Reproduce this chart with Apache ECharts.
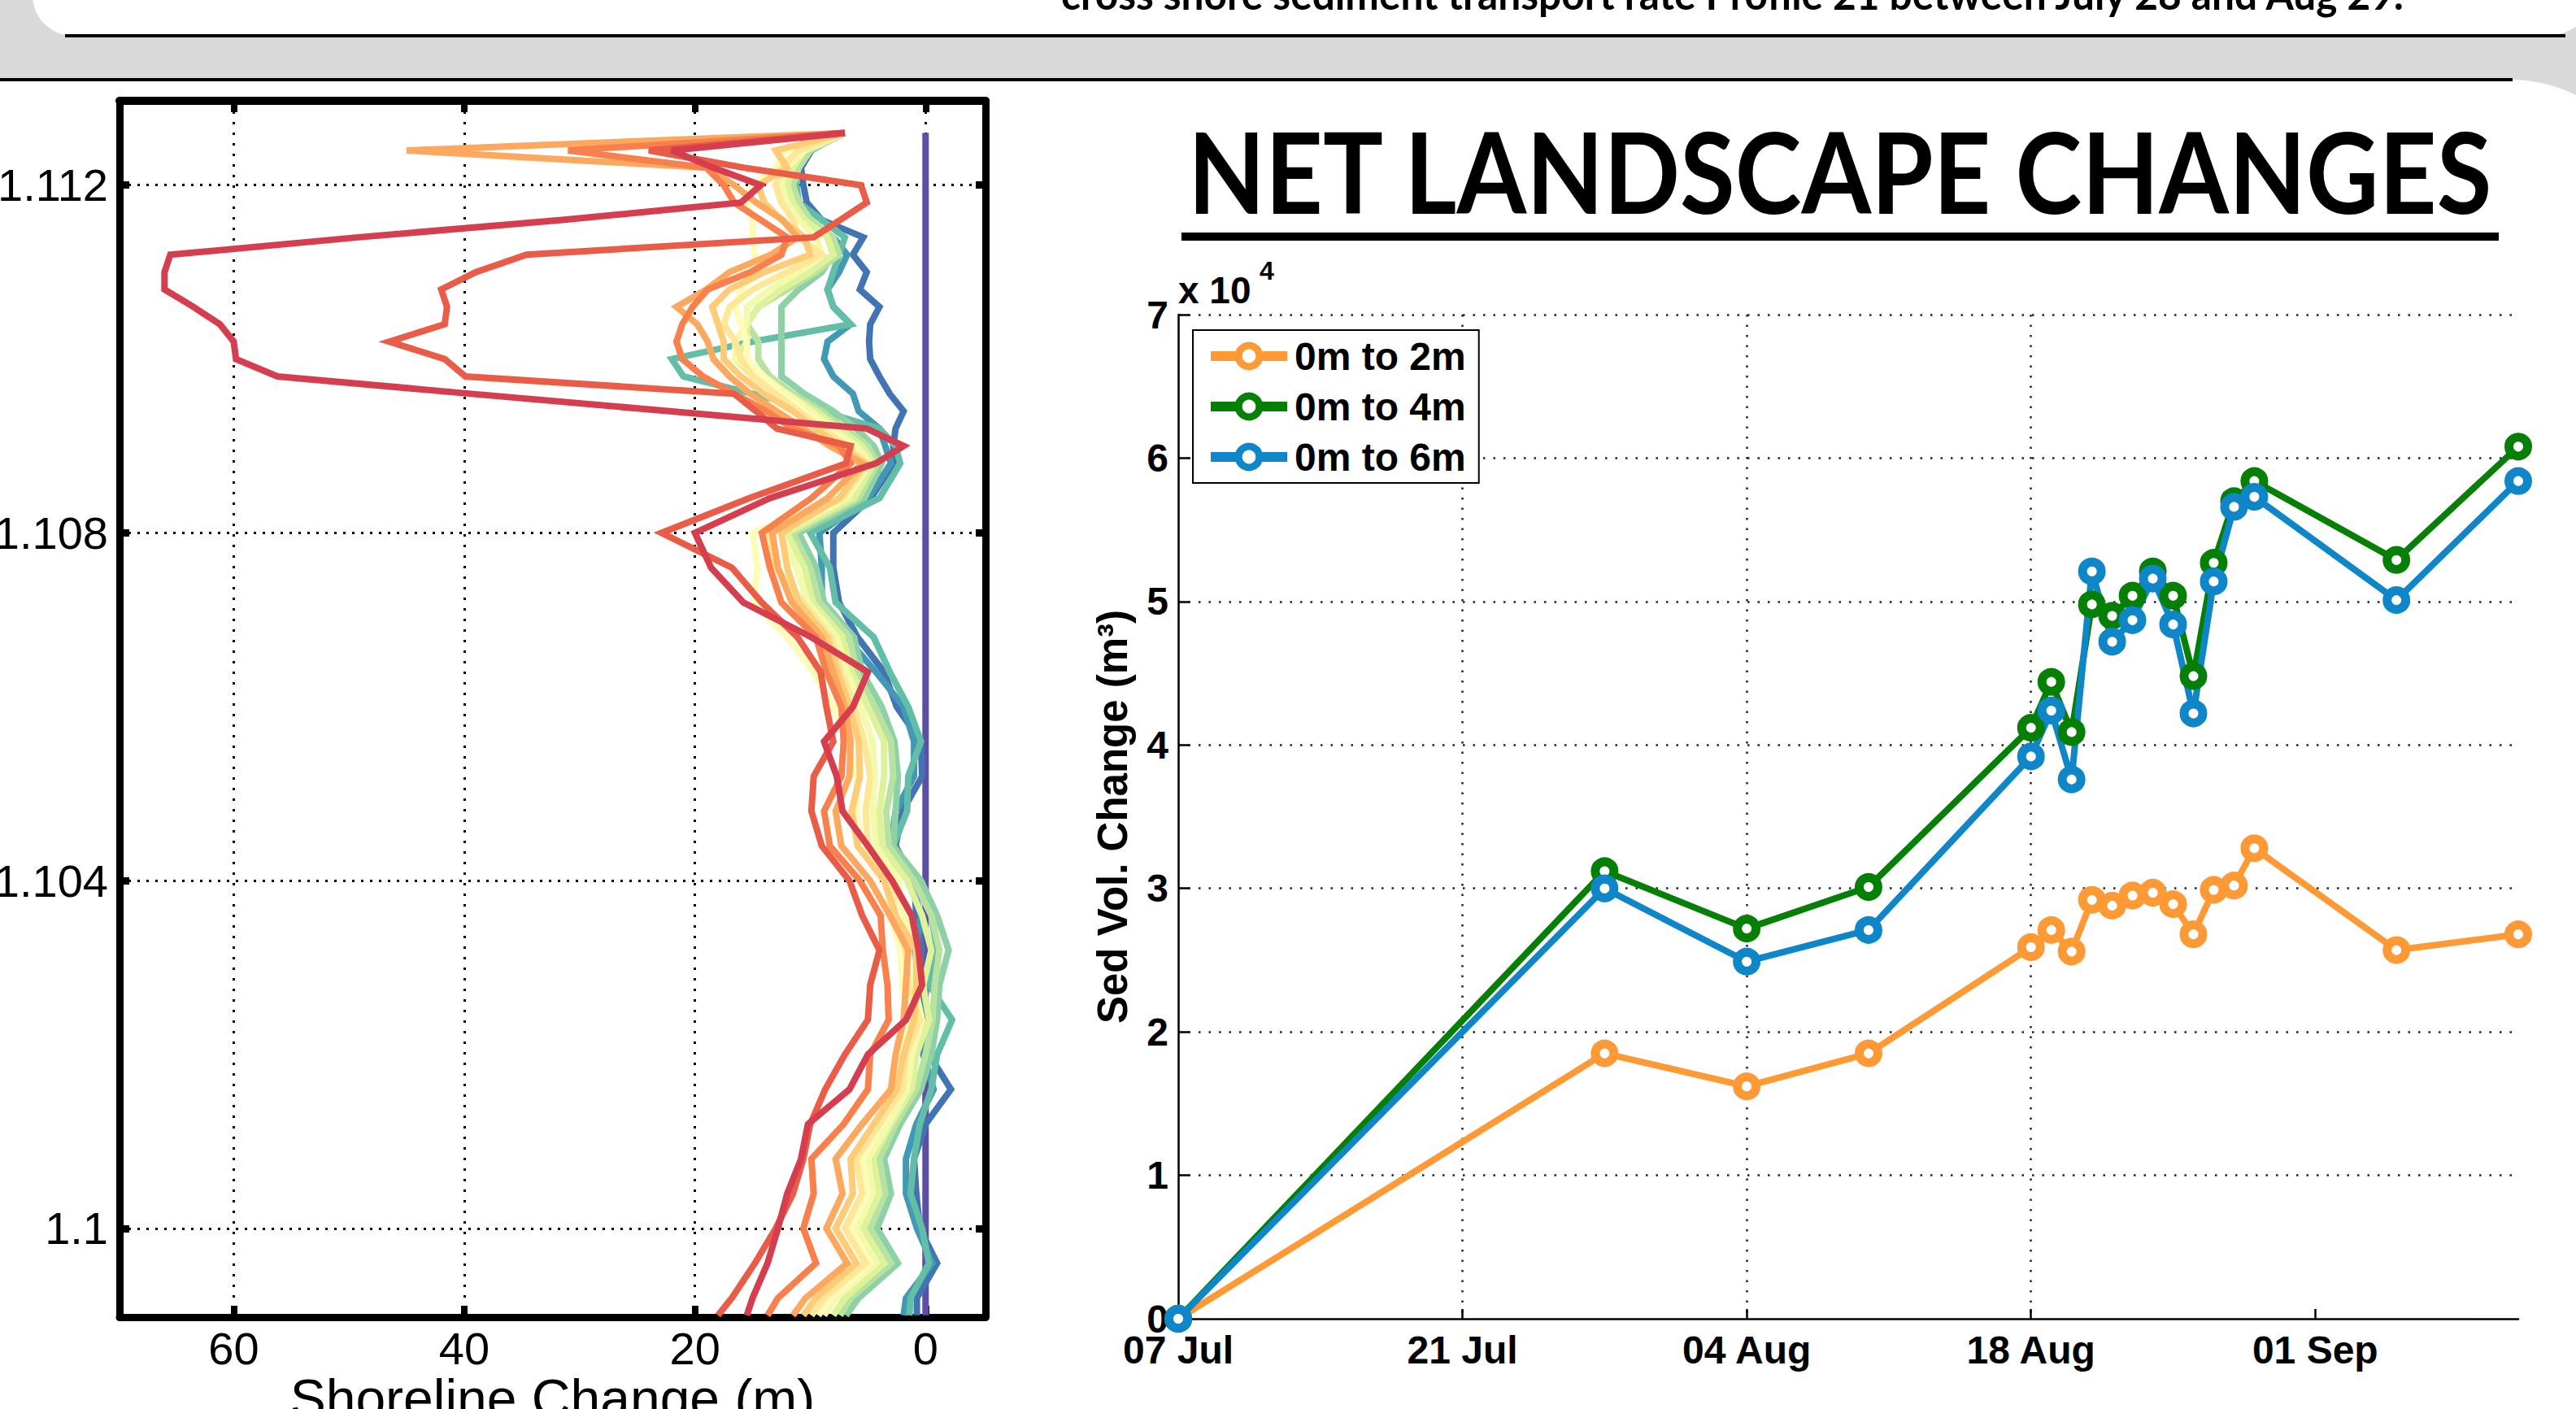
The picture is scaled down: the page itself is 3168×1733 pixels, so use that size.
<!DOCTYPE html>
<html>
<head>
<meta charset="utf-8">
<title>Net landscape changes</title>
<script src="https://cdn.jsdelivr.net/npm/echarts@6.0.0/dist/echarts.min.js"></script>
<style>
html,body{margin:0;padding:0;overflow:hidden;background:#d9d9d9;}
#chart{width:3168px;height:1733px;}
</style>
</head>
<body>
<div id="chart"></div>
<script>
// ================= LEFT PANEL: shoreline change along the beach =================
// alongshore position of each sample (axis units as printed on the chart)
const alongshore = [
  1.1126, 1.1124, 1.1122, 1.1120, 1.1118, 1.1116, 1.1114, 1.1112, 1.1110, 1.1108,
  1.1106, 1.1104, 1.1102, 1.1100, 1.1098, 1.1096, 1.1094, 1.1092, 1.1090, 1.1088,
  1.1084, 1.1080, 1.1076, 1.1072, 1.1068, 1.1064, 1.1060, 1.1056, 1.1052, 1.1048,
  1.1044, 1.1040, 1.1036, 1.1032, 1.1028, 1.1024, 1.1020, 1.1016, 1.1012, 1.1008,
  1.1004, 1.1000, 1.0996, 1.0992, 1.0990
];
const alongTicks = [1.1, 1.104, 1.108, 1.112];
const alongTickLabels = ['1.1', '1.104', '1.108', '1.112'];
const changeTicks = [0, 20, 40, 60];
const changeTickLabels = ['0', '20', '40', '60'];

// shoreline change (m) of each survey at the alongshore positions above
const survey01 = [
  0, 0, 0, 0, 0, 0, 0, 0, 0, 0,
  0, 0, 0, 0, 0, 0, 0, 0, 0, 0,
  0, 0, 0, 0, 0, 0, 0, 0, 0, 0,
  0, 0, 0, 0, 0, 0, 0, 0, 0, 0,
  0, 0, 0, 0, 0
];
const survey02 = [
  7.2, 9.9, 10.8, 10.6, 10.3, 9.0, 5.4, 6.3, 5.1, 5.7,
  4.0, 4.8, 4.9, 4.8, 4.0, 3.1, 1.9, 2.6, 2.8, 2.75,
  4.75, 8.0, 8.0, 7.5, 5.9, 3.6, 2.5, 0.4, 0.3, 2.0,
  2.6, 1.0, 0.8, 0.3, 0.6, -0.5, -0.3, -2.2, 0.0, 1.0,
  0.8, 0.5, -1.0, 0.75, 0.75
];
const survey03 = [
  7, 10.5, 11.5, 12, 11.8, 10.5, 8, 6.8, 7.5, 8.5,
  8.0, 6.5, 8.5, 8.8, 8, 6.3, 5.8, 4, 3.5, 3.0,
  5.0, 9.2, 9, 9, 6.9, 4.3, 1.9, 1.0, 1.0, 2.6,
  3.0, 1.2, 0.4, 0.9, 0.8, 0.3, 0.2, -0.7, 0.8, 1.7,
  1.7, 0.75, -0.6, 1.7, 1.9
];
const survey04 = [
  7, 10.5, 11.5, 11.2, 11, 9, 7, 7.5, 8, 8.5,
  8, 6.5, 15, 22, 21, 15, 9, 4, 2.6, 2.2,
  4.0, 10, 8.3, 7.8, 4.5, 3.1, 1.5, 0.4, 1.5, 1.6,
  2.8, 0.5, -0.5, -1.0, -0.3, -2.3, -1.0, -0.5, 0.5, 1.0,
  1.3, 0.3, -0.3, 1.3, 1.4
];
const survey05 = [
  7, 10, 11, 11.5, 11, 10, 8.5, 8, 9, 11,
  12.5, 12.5, 12.5, 12.5, 12.5, 10.5, 8, 6, 4.5, 3.8,
  5.3, 11, 9.5, 8.8, 6.2, 5.5, 3.8, 2.7, 2.4, 2.6,
  2.8, 0.4, -1.0, -2.0, -1.2, -1.0, -0.5, 0.4, 2.2, 3.6,
  3.0, 4.2, 2.4, 5.8, 6.9
];
const survey06 = [
  7, 10, 11, 11.5, 11, 10, 8, 7.5, 9.5, 12,
  14.5, 15.5, 14.5, 14.5, 13.5, 11.5, 9, 7, 5, 4.2,
  5.8, 11.5, 10, 9.2, 6.6, 6, 4.4, 3.0, 2.8, 3.4,
  3.2, 1.0, -0.5, -1.2, -0.8, -0.6, 0, 0.8, 2.6, 4.0,
  3.5, 4.8, 3.0, 6.5, 7.4
];
const survey07 = [
  7, 10.5, 11.5, 12, 11.5, 10.5, 8.5, 8, 10, 12.5,
  14.5, 15.5, 15.5, 16.5, 15, 12, 9.5, 7.5, 5.5, 4.5,
  6.2, 12, 10.5, 9.8, 7.2, 6.4, 5.0, 3.6, 3.6, 4.0,
  3.8, 1.6, 0.3, -0.5, 0.2, -0.3, 0.8, 1.2, 3.0, 4.6,
  4.0, 5.4, 3.6, 7.0, 8.0
];
const survey08 = [
  7, 10.5, 12, 12.5, 12, 11, 9.5, 9, 11, 13.5,
  15.5, 15.5, 16.5, 16.5, 14, 12, 10, 8, 6, 4.8,
  6.8, 12.5, 11.2, 10.2, 7.7, 6.8, 5.6, 4.6, 4.4, 4.6,
  4.3, 2.4, 1.9, 0.8, 1.0, 0.3, 1.2, 1.6, 3.2, 5.0,
  4.6, 6.0, 4.3, 7.8, 8.8
];
const survey09 = [
  7, 12, 13, 15, 15.5, 15, 15, 14.8, 14.5, 16,
  16.5, 16, 15.5, 15.5, 14, 12.5, 10.5, 8.5, 6.5, 5,
  7.5, 15, 14.6, 14.9, 12.0, 9.7, 8.0, 6.8, 6.0, 6.0,
  5.6, 3.4, 3.0, 2.2, 2.0, 1.5, 2.2, 2.2, 3.8, 5.5,
  5.0, 6.5, 4.8, 8.2, 9.3
];
const survey10 = [
  7, 11, 12.5, 13, 12.5, 11.5, 11, 9, 12, 15,
  17, 17.5, 16.5, 16, 15, 13, 11, 9, 6.8, 5,
  7.2, 13.8, 13, 10.6, 8.2, 7.3, 6.2, 5.3, 4.8, 5.2,
  5.0, 2.9, 2.6, 1.7, 1.5, 0.5, 1.7, 2.0, 4.0, 6.0,
  5.5, 7.0, 5.2, 8.8, 9.9
];
const survey11 = [
  7, 13, 12, 14.5, 14, 12.5, 10.5, 10, 14, 17,
  18.5, 18, 17.5, 17.5, 16, 14, 11.5, 9.5, 7.5, 5.2,
  7.5, 12.5, 12, 11, 8.5, 7.6, 6.6, 5.8, 5.7, 6.4,
  5.9, 3.6, 2.6, 0.8, 0.8, 1.0, 1.9, 2.5, 4.5, 6.5,
  6.3, 7.8, 6.0, 9.5, 10.6
];
const survey12 = [
  7, 45, 18.9, 16.6, 14.7, 12.4, 11.1, 13.4, 17, 19,
  21.6, 19.8, 18.9, 18.4, 17, 15.2, 12.9, 10.6, 8.3, 5.5,
  8.5, 13.3, 12.8, 11.6, 9.0, 8.0, 7.0, 6.5, 6.6, 7.8,
  7.3, 4.8, 3.1, 1.5, 1.7, 1.9, 2.6, 3.0, 5.5, 7.8,
  7.2, 8.6, 6.8, 10.4, 11.5
];
const survey13 = [
  7, 31, 19, 17.5, 16.6, 14.3, 12, 12.5, 15.2, 18.9,
  20.2, 21.1, 21.6, 21.1, 19.3, 16.6, 13.8, 11.5, 7.5, 6.5,
  9.9, 14.2, 13.5, 12.5, 9.5, 8.6, 7.3, 7.1, 7.3, 8.8,
  8.3, 5.7, 3.9, 3.7, 3.3, 3.2, 4.8, 5.0, 7.1, 9.9,
  9.7, 10.6, 9.5, 12.8, 13.7
];
const survey14 = [
  7, 24, 15.7, 5.6, 5.1, 7.4, 9.7, 34.6, 39, 42,
  41.5, 41.7, 46.5, 41.7, 39.9, 16.6, 14.7, 12.9, 6.5, 6.9,
  15.3, 22.9, 16.8, 14.2, 11.1, 9.1, 8.6, 8.0, 9.7, 9.9,
  9.0, 6.6, 5.5, 4.0, 4.8, 5.0, 7.0, 8.7, 10.0, 10.6,
  11.5, 13.0, 14.8, 16.8, 18.0
];
const survey15 = [
  7, 22, 18.4, 14.3, 16, 31.5, 49.2, 65.5, 66, 66,
  63.5, 61.2, 60, 59.8, 56.2, 39.4, 22.2, 5.1, 1.9, 4.3,
  13.5, 20, 18.6, 15.8, 9.9, 5.0, 6.3, 8.8, 7.7, 7.2,
  5.0, 2.9, 1.2, 0.6, 0.3, 1.7, 5.0, 6.6, 10.2, 10.8,
  12.0, 12.8, 13.7, 15.0, 15.5
];
const surveys = [survey01, survey02, survey03, survey04, survey05, survey06, survey07, survey08,
                 survey09, survey10, survey11, survey12, survey13, survey14, survey15];
const profileColors = ['#5e4fa2', '#4274b3', '#4199b6', '#62bea7', '#8dd1a4', '#b8e2a1', '#def29a', '#f3faac',
                       '#fffbb8', '#fee796', '#fecb79', '#fca95f', '#f7804c', '#e95c47', '#d53e4f'];

// ================= RIGHT PANEL: sediment volume change =================
const surveyDates = ['07-07', '07-28', '08-04', '08-10', '08-18', '08-19', '08-20', '08-21', '08-22',
                     '08-23', '08-24', '08-25', '08-26', '08-27', '08-28', '08-29', '09-05', '09-11'];
const vol0to2m = [0, 18500, 16200, 18500, 25900, 27100, 25600, 29200, 28800, 29500, 29700, 28900, 26800, 29900, 30200, 32800, 25700, 26800];
const vol0to4m = [0, 31200, 27200, 30100, 41200, 44400, 40900, 49800, 49000, 50400, 52100, 50400, 44800, 52700, 57000, 58400, 52900, 60800];
const vol0to6m = [0, 30000, 24900, 27100, 39200, 42400, 37600, 52100, 47200, 48700, 51600, 48400, 42200, 51400, 56600, 57300, 50100, 58400];
const volSeriesNames = ['0m to 2m', '0m to 4m', '0m to 6m'];
const volColors = ['#fd9a35', '#057f05', '#0f86c8'];
const dateTickDates = ['07-07', '07-21', '08-04', '08-18', '09-01'];
const dateTickLabels = ['07 Jul', '21 Jul', '04 Aug', '18 Aug', '01 Sep'];
const volTickLabels = ['0', '1', '2', '3', '4', '5', '6', '7'];

// ---------- helpers ----------
const W = 3168, H = 1733;
const dayOf = s => { const [m, d] = s.split('-').map(Number); return (Date.UTC(2001, m - 1, d) - Date.UTC(2001, 6, 7)) / 86400000; };
const surveyDays = surveyDates.map(dayOf);
const dateTicks = dateTickDates.map(dayOf);
const labelFor = (ticks, labels) => v => { const i = ticks.findIndex(t => Math.abs(t - v) < 1e-7); return i >= 0 ? labels[i] : ''; };
const measure = (text, font) => { const c = document.createElement('canvas').getContext('2d'); c.font = font; return c.measureText(text).width; };

const FONT = "'Liberation Sans', Arial, sans-serif";
const TITLE = 'NET LANDSCAPE CHANGES';
const TITLE_FONT_SIZE = 137;
const titleScale = 1607 / measure(TITLE, `bold ${TITLE_FONT_SIZE}px Lato`);
const HEADER = 'cross shore sediment transport rate Profile 21 between July 28 and Aug 29.';
const HEADER_FONT_SIZE = 52;
const headerScale = 1655 / measure(HEADER, `bold ${HEADER_FONT_SIZE}px Lato`);

// chart geometry
const L = { left: 147, top: 124, width: 1065, height: 1496 };
const R = { left: 1449, top: 387, width: 1648, height: 1235 };
const leftXMin = -5.2, leftXMax = 69.9, leftYMin = 1.09898, leftYMax = 1.11297;

const leftSeries = surveys.map((vals, k) => ({
  name: 'survey ' + (k + 1),
  type: 'line',
  xAxisIndex: 0, yAxisIndex: 0,
  data: vals.map((v, i) => [v, alongshore[i]]),
  showSymbol: false, symbol: 'none',
  lineStyle: { width: 8, color: profileColors[k], join: 'miter' },
  itemStyle: { color: profileColors[k] },
  clip: true, silent: true, z: 3
}));

const volSets = [vol0to2m, vol0to4m, vol0to6m];
const rightSeries = volSets.map((vals, k) => ({
  name: volSeriesNames[k],
  type: 'line',
  xAxisIndex: 2, yAxisIndex: 2,
  data: vals.map((v, i) => [surveyDays[i], v]),
  symbol: 'circle', symbolSize: 23, showSymbol: true,
  lineStyle: { width: 8, color: volColors[k] },
  itemStyle: { color: '#fff', borderColor: volColors[k], borderWidth: 11 },
  z: 3
}));

const dotted = (w, dash, gap, color) => ({ show: true, lineStyle: { type: [dash, gap], width: w, color: color } });

const option = {
  animation: false,
  backgroundColor: '#d9d9d9',
  textStyle: { fontFamily: FONT, color: '#000' },
  grid: [
    { left: L.left, top: L.top, width: L.width, height: L.height, containLabel: false, outerBoundsMode: 'none' },
    { left: R.left, top: R.top, width: R.width, height: R.height, containLabel: false, outerBoundsMode: 'none' }
  ],
  legend: {
    data: volSeriesNames,
    orient: 'vertical',
    left: 1467, top: 406,
    padding: [8, 16, 8, 16],
    itemGap: 14,
    itemWidth: 94, itemHeight: 32,
    backgroundColor: '#fff',
    borderColor: '#000', borderWidth: 2, borderRadius: 0,
    textStyle: { fontSize: 48, fontWeight: 'bold', color: '#000', fontFamily: FONT, padding: [0, 0, 0, 4] },
    lineStyle: { width: 12 },
    itemStyle: { borderWidth: 9 }
  },
  xAxis: [
    {
      gridIndex: 0, type: 'value', inverse: true, min: leftXMin, max: leftXMax, position: 'bottom',
      axisLine: { show: true, onZero: false, lineStyle: { color: '#000', width: 9 } },
      axisTick: { show: true, inside: true, length: 14, customValues: changeTicks, lineStyle: { color: '#000', width: 8 } },
      axisLabel: { show: true, customValues: changeTicks, formatter: labelFor(changeTicks, changeTickLabels), fontSize: 56, color: '#000', margin: 10, fontFamily: FONT },
      splitLine: dotted(3, 3, 10, '#000'),
      name: 'Shoreline Change (m)', nameLocation: 'middle', nameGap: 67, nameMoveOverlap: false,
      nameTextStyle: { fontSize: 66, color: '#000', fontFamily: FONT }
    },
    {
      gridIndex: 0, type: 'value', inverse: true, min: leftXMin, max: leftXMax, position: 'top',
      axisLine: { show: true, onZero: false, lineStyle: { color: '#000', width: 10 } },
      axisTick: { show: true, inside: true, length: 14, customValues: changeTicks, lineStyle: { color: '#000', width: 8 } },
      axisLabel: { show: false }, splitLine: { show: false }
    },
    {
      gridIndex: 1, type: 'value', min: 0, max: surveyDays[surveyDays.length - 1], interval: 14,
      axisLine: { show: true, onZero: false, lineStyle: { color: '#000', width: 2.5 } },
      axisTick: { show: true, inside: true, length: 12, customValues: dateTicks, lineStyle: { color: '#000', width: 2.5 } },
      axisLabel: { show: true, customValues: dateTicks, formatter: labelFor(dateTicks, dateTickLabels), fontSize: 48, fontWeight: 'bold', color: '#000', margin: 14, fontFamily: FONT },
      splitLine: Object.assign(dotted(2.5, 2.5, 10, '#222'), { showMinLine: false, showMaxLine: false })
    }
  ],
  yAxis: [
    {
      gridIndex: 0, type: 'value', min: leftYMin, max: leftYMax, position: 'left',
      axisLine: { show: true, onZero: false, lineStyle: { color: '#000', width: 9 } },
      axisTick: { show: true, inside: true, length: 12, customValues: alongTicks, lineStyle: { color: '#000', width: 9 } },
      axisLabel: { show: true, customValues: alongTicks, formatter: labelFor(alongTicks, alongTickLabels), fontSize: 56, color: '#000', margin: 14, fontFamily: FONT },
      splitLine: dotted(3, 3, 8, '#000')
    },
    {
      gridIndex: 0, type: 'value', min: leftYMin, max: leftYMax, position: 'right',
      axisLine: { show: true, onZero: false, lineStyle: { color: '#000', width: 9 } },
      axisTick: { show: true, inside: true, length: 12, customValues: alongTicks, lineStyle: { color: '#000', width: 9 } },
      axisLabel: { show: false }, splitLine: { show: false }
    },
    {
      gridIndex: 1, type: 'value', min: 0, max: 70000, interval: 10000,
      axisLine: { show: true, onZero: false, lineStyle: { color: '#000', width: 2.5 } },
      axisTick: { show: true, inside: true, length: 14, lineStyle: { color: '#000', width: 2.5 } },
      axisLabel: { show: true, formatter: v => volTickLabels[Math.round(v / 10000)], fontSize: 48, fontWeight: 'bold', color: '#000', margin: 12, fontFamily: FONT },
      splitLine: Object.assign(dotted(2.5, 2.5, 10, '#222'), { showMinLine: false }),
      name: 'Sed Vol. Change (m³)', nameLocation: 'middle', nameRotate: 90, nameGap: 55, nameMoveOverlap: false,
      nameTextStyle: { fontSize: 51, fontWeight: 'bold', color: '#000', fontFamily: FONT }
    }
  ],
  graphic: [
    // poster panels
    { type: 'rect', z: -20, silent: true, shape: { x: 40, y: -300, width: 3160, height: 344, r: [0, 0, 70, 50] }, style: { fill: '#fff' } },
    { type: 'rect', z: -19, silent: true, shape: { x: 80, y: 42, width: 3075, height: 4 }, style: { fill: '#000' } },
    { type: 'rect', z: -20, silent: true, shape: { x: -200, y: 98, width: 3469, height: 1800, r: [0, 182, 0, 0] }, style: { fill: '#fff' } },
    { type: 'rect', z: -19, silent: true, shape: { x: 0, y: 96, width: 3090, height: 4 }, style: { fill: '#000' } },
    // header text (cut by the top edge, as in the poster)
    { type: 'text', z: 10, silent: true, x: 1305, y: -8, scaleX: headerScale, scaleY: 1,
      style: { text: HEADER, font: `bold ${HEADER_FONT_SIZE}px Lato`, fill: '#000', align: 'left', verticalAlign: 'middle' } },
    // title
    { type: 'text', z: 10, silent: true, x: 1461, y: 210, scaleX: titleScale, scaleY: 1,
      style: { text: TITLE, font: `bold ${TITLE_FONT_SIZE}px Lato`, fill: '#000', align: 'left', verticalAlign: 'middle' } },
    { type: 'rect', z: 10, silent: true, shape: { x: 1453, y: 286, width: 1620, height: 10 }, style: { fill: '#000' } },
    // axis multiplier of the right chart
    { type: 'text', z: 10, silent: true, x: 1449, y: 357,
      style: { text: 'x 10', font: `bold 46px ${FONT}`, fill: '#000', align: 'left', verticalAlign: 'middle' } },
    { type: 'text', z: 10, silent: true, x: 1549, y: 333,
      style: { text: '4', font: `bold 32px ${FONT}`, fill: '#000', align: 'left', verticalAlign: 'middle' } }
  ],
  series: leftSeries.concat(rightSeries)
};

const chart = echarts.init(document.getElementById('chart'), null, { renderer: 'svg', width: W, height: H });
chart.setOption(option);
</script>
</body>
</html>
